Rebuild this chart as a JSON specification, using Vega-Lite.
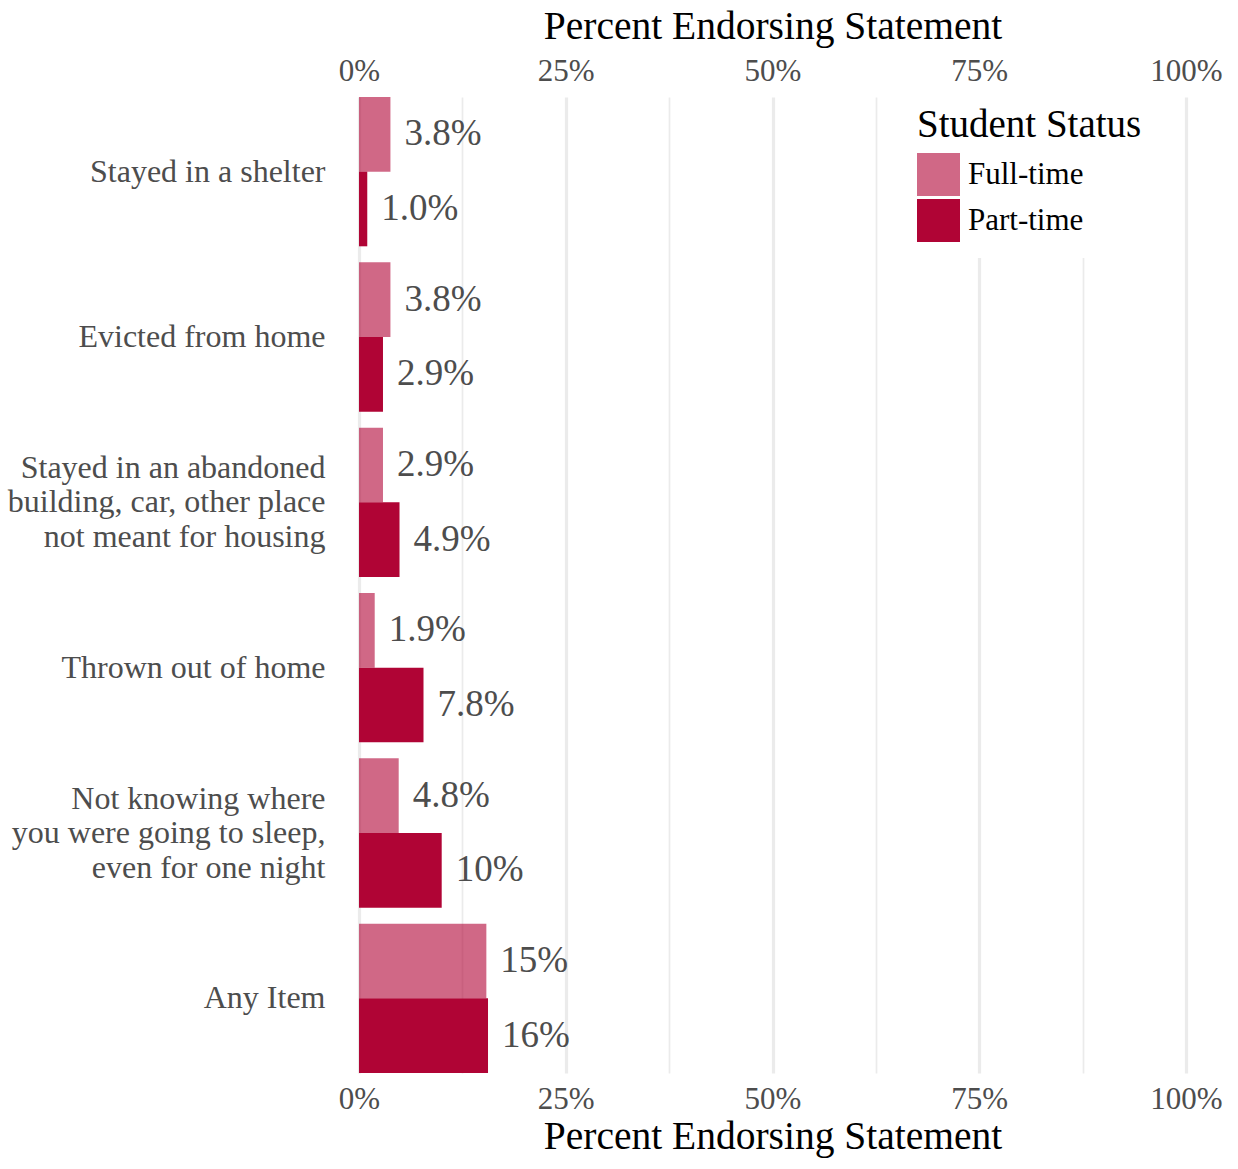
{
  "$schema": "https://vega.github.io/schema/vega-lite/v6.json",
  "width": 827,
  "height": 976,
  "autosize": {"type": "none"},
  "padding": {"left": 359, "top": 97, "right": 52, "bottom": 96},
  "background": "white",
  "config": {
    "font": "Liberation Serif",
    "view": {"stroke": null},
    "axis": {"domain": false, "ticks": false, "tickSize": 0}
  },
  "data": {
    "values": [
      {"item": "Stayed in a shelter", "status": "Full-time", "pct": 0.038},
      {"item": "Stayed in a shelter", "status": "Part-time", "pct": 0.010},
      {"item": "Evicted from home", "status": "Full-time", "pct": 0.038},
      {"item": "Evicted from home", "status": "Part-time", "pct": 0.029},
      {"item": "Stayed in an abandoned building, car, other place not meant for housing", "status": "Full-time", "pct": 0.029},
      {"item": "Stayed in an abandoned building, car, other place not meant for housing", "status": "Part-time", "pct": 0.049},
      {"item": "Thrown out of home", "status": "Full-time", "pct": 0.019},
      {"item": "Thrown out of home", "status": "Part-time", "pct": 0.078},
      {"item": "Not knowing where you were going to sleep, even for one night", "status": "Full-time", "pct": 0.048},
      {"item": "Not knowing where you were going to sleep, even for one night", "status": "Part-time", "pct": 0.100},
      {"item": "Any Item", "status": "Full-time", "pct": 0.154},
      {"item": "Any Item", "status": "Part-time", "pct": 0.156}
    ]
  },
  "encoding": {
    "y": {
      "field": "item",
      "type": "nominal",
      "sort": null,
      "scale": {"paddingInner": 0.097, "paddingOuter": 0},
      "axis": {
        "title": null,
        "labelFontSize": 32,
        "labelColor": "#4d4d4d",
        "labelPadding": 34,
        "labelLimit": 400,
        "labelLineHeight": 34.5,
        "labelOffset": {"condition": {"test": "indexof(datum.value, ',') >= 0", "value": -34.5}, "value": 0},
        "grid": false,
        "labelExpr": "datum.value == 'Stayed in an abandoned building, car, other place not meant for housing' ? ['Stayed in an abandoned', 'building, car, other place', 'not meant for housing'] : datum.value == 'Not knowing where you were going to sleep, even for one night' ? ['Not knowing where', 'you were going to sleep,', 'even for one night'] : datum.value"
      }
    },
    "yOffset": {
      "field": "status",
      "type": "nominal",
      "sort": ["Full-time", "Part-time"],
      "scale": {"paddingInner": 0, "paddingOuter": 0}
    }
  },
  "layer": [
    {
      "mark": {"type": "bar"},
      "encoding": {
        "x": {
          "field": "pct",
          "type": "quantitative",
          "scale": {"domain": [0, 1], "nice": false},
          "axis": {
            "orient": "bottom",
            "title": "Percent Endorsing Statement",
            "titleFontSize": 39.5,
            "titleFontWeight": "normal",
            "titleColor": "black",
            "titlePadding": 3,
            "labelFontSize": 31,
            "labelColor": "#4d4d4d",
            "labelPadding": 11,
            "format": ".0%",
            "values": [0, 0.125, 0.25, 0.375, 0.5, 0.625, 0.75, 0.875, 1],
            "labelExpr": "(datum.value * 4) % 1 === 0 ? datum.label : ''",
            "labelFlush": false,
            "labelOverlap": false,
            "grid": true,
            "gridColor": "#ebebeb",
            "gridWidth": {"condition": {"test": "(datum.value * 4) % 1 === 0", "value": 3.2}, "value": 1.7}
          }
        },
        "color": {
          "field": "status",
          "type": "nominal",
          "sort": ["Full-time", "Part-time"],
          "scale": {"domain": ["Full-time", "Part-time"], "range": ["rgba(176,4,53,0.6)", "rgb(176,4,53)"]},
          "legend": {
            "title": "Student Status",
            "orient": "none",
            "legendX": 542,
            "legendY": -7,
            "padding": 16,
            "fillColor": "white",
            "titleFontSize": 39,
            "titleFontWeight": "normal",
            "titleColor": "black",
            "titleLimit": 400,
            "titlePadding": 8,
            "labelFontSize": 31,
            "labelLimit": 300,
            "labelColor": "black",
            "labelOffset": 8,
            "symbolType": "square",
            "symbolSize": 1849,
            "symbolStrokeWidth": 0,
            "rowPadding": 3
          }
        }
      }
    },
    {
      "mark": {"type": "text", "align": "left", "baseline": "middle", "dx": 14, "fontSize": 37, "color": "#4d4d4d"},
      "encoding": {
        "x": {
          "field": "pct",
          "type": "quantitative",
          "scale": {"domain": [0, 1], "nice": false},
          "axis": {
            "orient": "top",
            "title": "Percent Endorsing Statement",
            "titleFontSize": 39.5,
            "titleFontWeight": "normal",
            "titleColor": "black",
            "titlePadding": 9,
            "labelFontSize": 31,
            "labelColor": "#4d4d4d",
            "labelPadding": 10,
            "format": ".0%",
            "values": [0, 0.25, 0.5, 0.75, 1],
            "labelFlush": false,
            "labelOverlap": false,
            "grid": false
          }
        },
        "text": {"field": "pct", "type": "quantitative", "format": ".2p"}
      }
    }
  ],
  "resolve": {"axis": {"x": "independent"}}
}
